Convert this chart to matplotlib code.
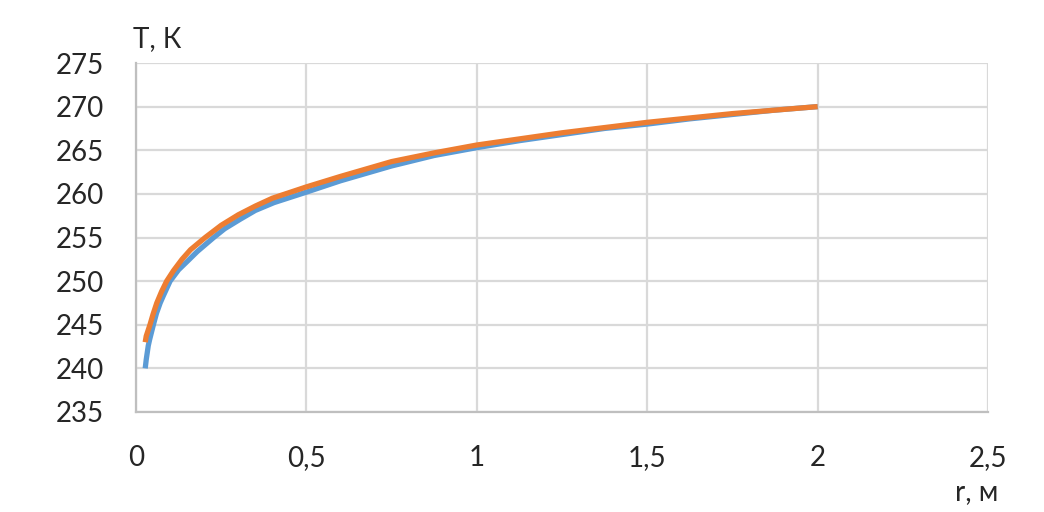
import matplotlib
matplotlib.use("Agg")
import matplotlib.pyplot as plt

# data
r_blue = [0.027, 0.030, 0.036, 0.040, 0.051, 0.060, 0.071, 0.080, 0.10, 0.125,
          0.154, 0.18, 0.228, 0.26, 0.306, 0.35, 0.405, 0.5, 0.6, 0.75,
          0.875, 1.0, 1.125, 1.25, 1.375, 1.5, 1.625, 1.75, 1.875, 2.0]
T_blue = [240.0, 241.0, 242.6, 243.3, 245.0, 246.3, 247.5, 248.3, 250.0, 251.3,
          252.4, 253.4, 255.0, 256.0, 257.1, 258.1, 259.0, 260.2, 261.5, 263.2,
          264.4, 265.3, 266.1, 266.8, 267.5, 268.0, 268.6, 269.1, 269.6, 270.0]
r_orange = [0.027, 0.030, 0.041, 0.050, 0.061, 0.075, 0.090, 0.11, 0.135, 0.16,
            0.203, 0.25, 0.3, 0.35, 0.4, 0.5, 0.6, 0.75, 0.875, 1.0,
            1.125, 1.25, 1.375, 1.5, 1.625, 1.75, 1.875, 2.0]
T_orange = [243.0, 243.7, 245.0, 246.2, 247.5, 248.8, 250.0, 251.2, 252.5, 253.6,
            255.0, 256.4, 257.6, 258.6, 259.5, 260.8, 262.0, 263.7, 264.7, 265.6,
            266.3, 267.0, 267.6, 268.2, 268.7, 269.2, 269.6, 270.0]

x_ticks = [0, 0.5, 1, 1.5, 2, 2.5]
x_labels = ["0", "0,5", "1", "1,5", "2", "2,5"]
y_ticks = [235, 240, 245, 250, 255, 260, 265, 270, 275]
y_labels = [str(v) for v in y_ticks]

plt.rcParams['font.family'] = ['Lato', 'DejaVu Sans']

fig = plt.figure(figsize=(10.44, 5.12), dpi=100)
ax = fig.add_axes([136/1044, 1 - 412/512, (988-136)/1044, (412-63)/512])

ax.plot(r_blue, T_blue, color="#5B9BD5", lw=3.8, solid_capstyle="butt",
        solid_joinstyle="round", zorder=3)
ax.plot(r_orange, T_orange, color="#ED7D31", lw=3.8, solid_capstyle="butt",
        solid_joinstyle="round", zorder=4)

ax.set_xlim(0, 2.5)
ax.set_ylim(235, 275)
ax.set_xticks(x_ticks)
ax.set_xticklabels(x_labels)
ax.set_yticks(y_ticks)
ax.set_yticklabels(y_labels)
ax.tick_params(axis="both", length=0, labelsize=20, labelcolor="#262626")
ax.tick_params(axis="y", pad=23)
ax.tick_params(axis="x", pad=24)
ax.grid(True, color="#D9D9D9", lw=1.6, zorder=0)
ax.set_axisbelow(True)
for s in ["top", "right"]:
    ax.spines[s].set_visible(False)
for s in ["left", "bottom"]:
    ax.spines[s].set_color("#BFBFBF")
    ax.spines[s].set_linewidth(1.6)

fig.text(133/1044, 1 - 47/512, "T, К", fontsize=20, color="#262626", ha="left", va="baseline")
fig.text(998/1044, 1 - 500/512, "r, м", fontsize=20, color="#262626", ha="right", va="baseline")

fig.savefig("out.png", dpi=100)
